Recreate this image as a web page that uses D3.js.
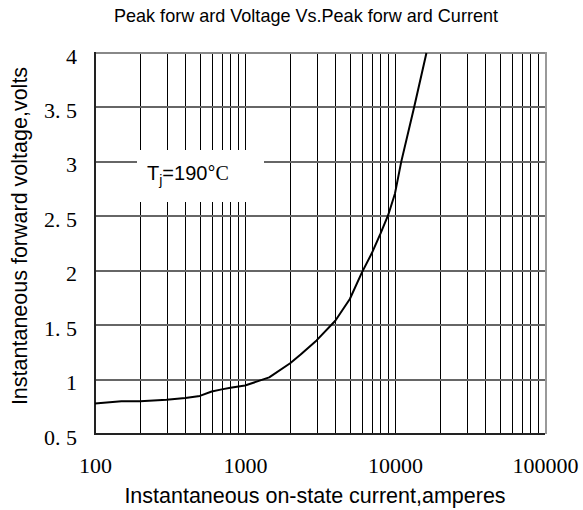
<!DOCTYPE html>
<html>
<head>
<meta charset="utf-8">
<script src="https://cdn.jsdelivr.net/npm/d3@7"></script>
<style>
    body { margin: 0; background: #fff; }
    svg { display: block; }
</style>
</head>
<body>
<svg id="chart" width="583" height="510"></svg>
<script>
'use strict';

// Curve
const current = [100, 150, 200, 300, 400, 500, 600, 700, 800, 1000, 1450, 2000,
    2350, 3000, 4000, 5000, 6000, 7000, 8000, 9000, 10000, 11000, 13400, 16200];
const voltage = [0.78, 0.80, 0.80, 0.815, 0.83, 0.85, 0.89, 0.91, 0.925, 0.945, 1.02, 1.15,
    1.23, 1.36, 1.54, 1.74, 1.98, 2.16, 2.34, 2.51, 2.71, 3.0, 3.5, 4.0];

const xTicks = [100, 1000, 10000, 100000];
const yTicks = [0.5, 1, 1.5, 2, 2.5, 3, 3.5, 4];
const xMinor = [200, 300, 400, 500, 600, 700, 800, 900, 1000,
    2000, 3000, 4000, 5000, 6000, 7000, 8000, 9000, 10000,
    20000, 30000, 40000, 50000, 60000, 70000, 80000, 90000];

const title = 'Peak forw ard Voltage Vs.Peak forw ard Current';
const xTitle = 'Instantaneous on-state current,amperes';
const yTitle = 'Instantaneous forward voltage,volts';

drawChart();

function drawChart() {
    const svg = d3.select('#chart');
    const plotLeft = 95, plotRight = 545, plotTop = 53, plotBottom = 434;

    const x = d3.scaleLog().domain([100, 100000]).range([plotLeft, plotRight]);
    const y = d3.scaleLinear().domain([0.5, 4]).range([plotBottom, plotTop]);

    const sans = 'Liberation Sans, Arial, sans-serif';
    const serif = 'Liberation Serif, Times New Roman, serif';

    // vertical grid
    svg.append('g')
        .selectAll('line')
        .data(xMinor)
        .join('line')
        .attr('x1', d => Math.round(x(d)) + 0.5)
        .attr('x2', d => Math.round(x(d)) + 0.5)
        .attr('y1', plotTop)
        .attr('y2', plotBottom)
        .attr('stroke', '#000')
        .attr('stroke-width', 1);

    // horizontal grid
    svg.append('g')
        .selectAll('line')
        .data(yTicks.slice(1, -1))
        .join('line')
        .attr('x1', plotLeft)
        .attr('x2', plotRight)
        .attr('y1', d => Math.round(y(d)))
        .attr('y2', d => Math.round(y(d)))
        .attr('stroke', '#666')
        .attr('stroke-width', 2);

    // label box covering the grid
    svg.append('rect')
        .attr('x', 137).attr('y', 150)
        .attr('width', 127).attr('height', 52)
        .attr('fill', '#fff');

    const tj = svg.append('text')
        .attr('x', 147)
        .attr('y', 180)
        .attr('font-family', sans)
        .attr('font-size', 20)
        .attr('fill', '#000');
    tj.append('tspan').text('T');
    tj.append('tspan').attr('font-size', 14).attr('dy', 5).text('j');
    tj.append('tspan').attr('dy', -5).text('=190°');
    tj.append('tspan').attr('font-family', serif).text('C');

    // frame
    svg.append('line')
        .attr('x1', plotLeft).attr('x2', plotRight + 1)
        .attr('y1', plotTop).attr('y2', plotTop)
        .attr('stroke', '#888').attr('stroke-width', 2);
    svg.append('line')
        .attr('x1', plotRight + 1).attr('x2', plotRight + 1)
        .attr('y1', plotTop - 1).attr('y2', plotBottom)
        .attr('stroke', '#999').attr('stroke-width', 2);
    svg.append('line')
        .attr('x1', plotLeft).attr('x2', plotLeft)
        .attr('y1', plotTop - 1).attr('y2', plotBottom + 1)
        .attr('stroke', '#222').attr('stroke-width', 2);
    svg.append('line')
        .attr('x1', plotLeft - 1).attr('x2', plotRight)
        .attr('y1', plotBottom).attr('y2', plotBottom)
        .attr('stroke', '#222').attr('stroke-width', 2);

    // curve
    const line = d3.line()
        .x(d => x(d[0]))
        .y(d => y(d[1]));

    svg.append('path')
        .datum(d3.zip(current, voltage))
        .attr('d', line)
        .attr('fill', 'none')
        .attr('stroke', '#000')
        .attr('stroke-width', 2)
        .attr('stroke-linejoin', 'round');

    // axes (labels only)
    const fmtY = d => Number.isInteger(d) ? String(d) : d.toFixed(1).replace('.', '. ');

    const yAxis = svg.append('g')
        .attr('transform', `translate(${plotLeft},0)`)
        .call(d3.axisLeft(y).tickValues(yTicks).tickFormat(fmtY).tickSize(0).tickPadding(18));
    yAxis.select('.domain').remove();
    yAxis.selectAll('text')
        .attr('dy', 10)
        .attr('font-family', serif)
        .attr('font-size', 22)
        .attr('fill', '#000');

    const xAxis = svg.append('g')
        .attr('transform', `translate(0,${plotBottom})`)
        .call(d3.axisBottom(x).tickValues(xTicks).tickFormat(d3.format('d')).tickSize(0));
    xAxis.select('.domain').remove();
    xAxis.selectAll('text')
        .attr('y', 39)
        .attr('dy', null)
        .attr('font-family', serif)
        .attr('font-size', 22)
        .attr('fill', '#000');

    // titles
    svg.append('text')
        .attr('x', 306)
        .attr('y', 22)
        .attr('text-anchor', 'middle')
        .attr('font-family', sans)
        .attr('font-size', 19)
        .attr('textLength', 384)
        .attr('lengthAdjust', 'spacingAndGlyphs')
        .text(title);

    svg.append('text')
        .attr('x', 315)
        .attr('y', 503)
        .attr('text-anchor', 'middle')
        .attr('font-family', sans)
        .attr('font-size', 21.5)
        .text(xTitle);

    svg.append('text')
        .attr('transform', 'translate(27,236) rotate(-90)')
        .attr('text-anchor', 'middle')
        .attr('font-family', sans)
        .attr('font-size', 21.5)
        .text(yTitle);
}
</script>
</body>
</html>
